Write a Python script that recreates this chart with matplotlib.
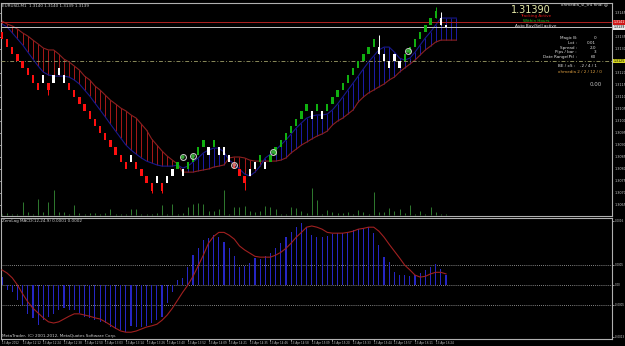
import numpy as np
import matplotlib
matplotlib.use("Agg")
import matplotlib.pyplot as plt
from matplotlib import font_manager

W, H = 625, 346
_names = {f.name for f in font_manager.fontManager.ttflist}
SMALL = ['Liberation Sans Narrow', 'DejaVu Sans'] if 'Liberation Sans Narrow' in _names else ['DejaVu Sans']

# --- EURUSD,M1 range bars (3 pips) ---
opens = [1.31370, 1.31340, 1.31310, 1.31280, 1.31250, 1.31220, 1.31190, 1.31160,
         1.31160, 1.31160, 1.31160, 1.31190, 1.31190,
         1.31160, 1.31130, 1.31100, 1.31070, 1.31040, 1.31010, 1.30980, 1.30950, 1.30920, 1.30890, 1.30860, 1.30830,
         1.30830, 1.30830, 1.30800, 1.30770, 1.30740,
         1.30740, 1.30740, 1.30740, 1.30770,
         1.30800, 1.30800, 1.30800, 1.30830, 1.30860, 1.30890,
         1.30890, 1.30890, 1.30890, 1.30890, 1.30860,
         1.30830, 1.30800, 1.30770,
         1.30770, 1.30800, 1.30830, 1.30830,
         1.30830, 1.30860, 1.30890, 1.30920, 1.30950, 1.30980, 1.31010, 1.31040,
         1.31040, 1.31040, 1.31040,
         1.31040, 1.31070, 1.31100, 1.31130, 1.31160, 1.31190, 1.31220, 1.31250, 1.31280, 1.31310,
         1.31310, 1.31280, 1.31250, 1.31250, 1.31250,
         1.31250, 1.31280, 1.31310, 1.31340, 1.31370, 1.31400, 1.31430,
         1.31430, 1.31400]
closes = [1.31340, 1.31310, 1.31280, 1.31250, 1.31220, 1.31190, 1.31160, 1.31130,
          1.31190, 1.31130, 1.31190, 1.31220, 1.31160,
          1.31130, 1.31100, 1.31070, 1.31040, 1.31010, 1.30980, 1.30950, 1.30920, 1.30890, 1.30860, 1.30830, 1.30800,
          1.30860, 1.30800, 1.30770, 1.30740, 1.30710,
          1.30770, 1.30710, 1.30770, 1.30800,
          1.30830, 1.30770, 1.30830, 1.30860, 1.30890, 1.30920,
          1.30860, 1.30920, 1.30860, 1.30860, 1.30830,
          1.30800, 1.30770, 1.30740,
          1.30800, 1.30830, 1.30860, 1.30800,
          1.30860, 1.30890, 1.30920, 1.30950, 1.30980, 1.31010, 1.31040, 1.31070,
          1.31010, 1.31070, 1.31010,
          1.31070, 1.31100, 1.31130, 1.31160, 1.31190, 1.31220, 1.31250, 1.31280, 1.31310, 1.31340,
          1.31280, 1.31250, 1.31220, 1.31280, 1.31220,
          1.31280, 1.31310, 1.31340, 1.31370, 1.31400, 1.31430, 1.31460,
          1.31400, 1.31390]
bar_kind = list("rrrrrrrr" "wrwww" "rrrrrrrrrrrr" "wrrrr" "wrww" "gwgggg" "wgwww" "rrr"
                "wwgw" "gggggggg" "wgw" "gggggggggg" "wwwww" "ggggggg" "ww")

wick_bar = [9, 29, 31, 47, 73, 84, 85]
wick_low = [1.31108, 1.30700, 1.30700, 1.30712, 1.31280, 1.31430, 1.31400]
wick_high = [1.31160, 1.30740, 1.30740, 1.30770, 1.31358, 1.31475, 1.31454]

# trailing band: stop line and near line
stop = [1.31417, 1.31404, 1.31396, 1.31383, 1.31367, 1.31354, 1.31337, 1.31321, 1.31304, 1.31296,
        1.31296, 1.31279, 1.31258, 1.31246, 1.31229, 1.31212, 1.31187, 1.31171, 1.31146, 1.31129,
        1.31108, 1.31087, 1.31071, 1.31054, 1.31042, 1.31025, 1.31012, 1.30987, 1.30962, 1.30925,
        1.30900, 1.30875, 1.30854, 1.30837, 1.30821,
        1.30787, 1.30787, 1.30787, 1.30792, 1.30796, 1.30800, 1.30808, 1.30812, 1.30817,
        1.30846, 1.30850, 1.30850, 1.30846, 1.30837, 1.30833, 1.30833,
        1.30833, 1.30833, 1.30833, 1.30837, 1.30846, 1.30867, 1.30883, 1.30900, 1.30912,
        1.30925, 1.30937, 1.30946, 1.30958, 1.30983, 1.31000, 1.31012, 1.31029, 1.31046, 1.31079,
        1.31100, 1.31117, 1.31129, 1.31142, 1.31154, 1.31171, 1.31183, 1.31204, 1.31221, 1.31237,
        1.31254, 1.31275, 1.31296, 1.31312, 1.31329, 1.31337, 1.31337, 1.31337, 1.31337]
near = [1.31404, 1.31392, 1.31367, 1.31342, 1.31317, 1.31287, 1.31258, 1.31229, 1.31204, 1.31192,
        1.31187, 1.31187, 1.31187, 1.31183, 1.31171, 1.31154, 1.31129, 1.31104, 1.31075, 1.31046,
        1.31017, 1.30987, 1.30958, 1.30929, 1.30900, 1.30879, 1.30862, 1.30846, 1.30833, 1.30825,
        1.30817, 1.30812, 1.30812, 1.30812, 1.30817,
        1.30804, 1.30812, 1.30829, 1.30846, 1.30867, 1.30879, 1.30887, 1.30887, 1.30871,
        1.30837, 1.30821, 1.30800, 1.30779, 1.30771, 1.30787, 1.30812,
        1.30846, 1.30862, 1.30879, 1.30900, 1.30921, 1.30946, 1.30971, 1.30992, 1.31012,
        1.31021, 1.31025, 1.31025, 1.31029, 1.31046, 1.31071, 1.31100, 1.31129, 1.31158, 1.31187,
        1.31217, 1.31246, 1.31271, 1.31296, 1.31308, 1.31308, 1.31287, 1.31262, 1.31254, 1.31262,
        1.31287, 1.31317, 1.31346, 1.31371, 1.31400, 1.31429, 1.31429, 1.31429, 1.31429]

# signal markers
sig_bar = [35, 37, 45, 52.5, 78.6]
sig_price = [1.30850, 1.30854, 1.30817, 1.30871, 1.31292]
sig_col = ['#3aa83a', '#3aa83a', '#d07070', '#3aa83a', '#3aa83a']

volume = [3, 6, 3, 3, 39, 9, 3, 48, 9, 39,
          75, 9, 9, 3, 30, 6, 3, 6, 6, 3,
          6, 18, 3, 3, 3, 18, 18, 3, 3, 3,
          6, 30, 3, 33, 3, 6, 24, 33, 36, 33,
          12, 12, 18, 75, 3, 24, 24, 27, 12, 9,
          12, 27, 24, 18, 3, 3, 24, 21, 12, 6,
          81, 45, 3, 15, 9, 6, 6, 9, 3, 15,
          9, 3, 69, 9, 9, 21, 12, 18, 6, 30,
          3, 12, 3, 24, 9, 3, 3]

# ZeroLag MACD
hist = [0.00020, -0.00012, -0.00018, -0.00038, -0.00050, -0.00072, -0.00082, -0.00100, -0.00088, -0.00080,
        -0.00072, -0.00062, -0.00058, -0.00062, -0.00062, -0.00070, -0.00080, -0.00082, -0.00088, -0.00092,
        -0.00095, -0.00105, -0.00110, -0.00112, -0.00118, -0.00102, -0.00105, -0.00105, -0.00102, -0.00095,
        -0.00088, -0.00080, -0.00045, -0.00018, 0.00012, 0.00018, 0.00045, 0.00075, 0.00092, 0.00112,
        0.00118, 0.00125, 0.00120, 0.00108, 0.00092, 0.00072, 0.00045, 0.00048, 0.00055, 0.00068,
        0.00065, 0.00072, 0.00080, 0.00092, 0.00105, 0.00120, 0.00132, 0.00145, 0.00155, 0.00145,
        0.00125, 0.00120, 0.00120, 0.00122, 0.00128, 0.00130, 0.00130, 0.00132, 0.00138, 0.00140,
        0.00142, 0.00145, 0.00130, 0.00100, 0.00070, 0.00058, 0.00032, 0.00025, 0.00025, 0.00022,
        0.00025, 0.00030, 0.00038, 0.00045, 0.00052, 0.00040, 0.00025]
signal = [0.00038, 0.00030, 0.00018, 0.00000, -0.00022, -0.00042, -0.00058, -0.00070, -0.00082, -0.00092,
          -0.00095, -0.00092, -0.00085, -0.00078, -0.00072, -0.00072, -0.00075, -0.00078, -0.00082, -0.00085,
          -0.00092, -0.00100, -0.00108, -0.00115, -0.00118, -0.00118, -0.00115, -0.00110, -0.00105, -0.00102,
          -0.00098, -0.00088, -0.00075, -0.00058, -0.00038, -0.00018, 0.00000, 0.00022, 0.00048, 0.00075,
          0.00105, 0.00122, 0.00132, 0.00132, 0.00125, 0.00115, 0.00098, 0.00088, 0.00080, 0.00072,
          0.00070, 0.00070, 0.00070, 0.00075, 0.00082, 0.00092, 0.00105, 0.00120, 0.00132, 0.00145,
          0.00148, 0.00145, 0.00140, 0.00132, 0.00130, 0.00130, 0.00130, 0.00132, 0.00135, 0.00140,
          0.00142, 0.00145, 0.00145, 0.00135, 0.00120, 0.00102, 0.00085, 0.00068, 0.00050, 0.00038,
          0.00025, 0.00020, 0.00022, 0.00028, 0.00032, 0.00032, 0.00028]

time_labels = ["13 Apr 2012", "13 Apr 12:12", "13 Apr 12:24", "13 Apr 12:38", "13 Apr 12:50",
               "13 Apr 13:03", "13 Apr 13:14", "13 Apr 13:26", "13 Apr 13:40", "13 Apr 13:52",
               "13 Apr 14:09", "13 Apr 14:21", "13 Apr 14:35", "13 Apr 14:46", "13 Apr 14:58",
               "13 Apr 15:09", "13 Apr 15:20", "13 Apr 15:33", "13 Apr 15:44", "13 Apr 15:57",
               "13 Apr 16:11", "13 Apr 16:24"]
price_ticks = [1.3145, 1.3135, 1.3130, 1.3120, 1.3115, 1.3110, 1.3105, 1.3100, 1.3095,
               1.3090, 1.3085, 1.3080, 1.3075, 1.3070, 1.3065]
macd_ticks = [0.0016, 0.0005, 0.0, -0.0005, -0.0013]
macd_tick_labels = ["0.0016", "0.0005", "0.00", "-0.0005", "-0.0013"]

ask_line, bid_line, level_line = 1.31412, 1.31390, 1.31250

# ---------------------------------------------------------------
fig = plt.figure(figsize=(W / 100, H / 100), dpi=100, facecolor='black')
ax = fig.add_axes([1 / W, 130 / H, 611 / W, 213 / H])
ax2 = fig.add_axes([1 / W, 7 / H, 611 / W, 121 / H])

for a in (ax, ax2):
    a.set_facecolor('black')
    for s in a.spines.values():
        s.set_color('#b0b0b0')
        s.set_linewidth(0.8)
    a.set_xlim(-0.19, 118.15)
    a.tick_params(axis='y', left=False, labelleft=False, right=True, labelright=False,
                  colors='#c8c8c8', length=1.2, width=0.5)


def right_labels(a, ticks, labels, size=2.4):
    # price scale on the right, drawn as plain texts next to the ticks
    a.set_yticks(ticks, labels=[''] * len(ticks))
    for t, s in zip(ticks, labels):
        a.text(1.004, t, s, transform=a.get_yaxis_transform(), fontsize=size, color='#c8c8c8',
               va='center', ha='left', family=SMALL)


idx = np.arange(len(opens))
bidx = np.arange(len(stop))

# band hatch
hatch_col = ['#a81818' if s > n else '#1c1ca8' for s, n in zip(stop, near)]
ax.vlines(bidx, near, stop, colors=hatch_col, lw=0.7, zorder=1)
ax.plot(bidx, stop, color='#8c2020', lw=0.8, zorder=2)
ax.plot(bidx, near, color='#18188c', lw=0.8, zorder=2)

# volume
axv = ax.twinx()
axv.set_ylim(-3, 636)
axv.vlines(idx, 0, volume, colors='#2f7a2f', lw=0.7)
axv.axis('off')

# levels
ax.axhline(ask_line, color='#b02020', lw=0.7, zorder=3)
ax.axhline(bid_line, color='#c8c8c8', lw=0.7, zorder=3)
ax.axhline(level_line, color='#8a8a5a', lw=0.7, ls=(0, (4, 2, 1, 2)), zorder=3)

# candles
kind_col = {'r': '#ff1010', 'g': '#10b010', 'w': '#ffffff'}
cols = [kind_col[k] for k in bar_kind]
lo = np.minimum(opens, closes)
hi = np.maximum(opens, closes)
ax.vlines(wick_bar, wick_low, wick_high, colors=[cols[i] for i in wick_bar], lw=0.7, zorder=4)
ax.bar(idx, hi - lo, bottom=lo, width=0.45, color=cols, zorder=5)

ax.plot(sig_bar, sig_price, 'o', ms=4.2, mfc='none', mec='#c8c8c8', mew=0.8, zorder=6)
ax.scatter(sig_bar, sig_price, s=3, c=sig_col, zorder=7)

ax.set_ylim(1.306042, 1.314917)
right_labels(ax, price_ticks, ["%.4f" % p for p in price_ticks])
ax.set_xticks([])

# right axis price boxes
for p, fc, tc in [(ask_line, '#d01818', 'white'), (bid_line, '#e8e8e8', 'black'), (level_line, '#d8d820', 'black')]:
    ax.text(1.003, p, "%.4f" % p, transform=ax.get_yaxis_transform(), fontsize=2.3, color=tc,
            va='center', ha='left', family=SMALL,
            bbox=dict(boxstyle='square,pad=0.12', fc=fc, ec='none'))

ax.text(0.002, 0.995, "EURUSD,M1  1.3140 1.3140 1.3139 1.3139", transform=ax.transAxes,
        fontsize=3, color='#d0d0d0', va='top', ha='left', family=SMALL)


# panel info block (figure pixel coordinates)
def ftext(x, y, s, **kw):
    fig.text(x / W, 1 - y / H, s, va='center', family=SMALL, **kw)


ftext(608, 4, "ohmedia_sl_tr4 final \u263a", fontsize=3, color='#e0e0e0', ha='right')
fig.text(531 / W, 1 - 10 / H, "1.31390", fontsize=7, color='#e6eaa8', ha='center', va='center')
ftext(536, 16, "Tracking Active", fontsize=3, color='#e01818', ha='center')
ftext(536, 21, "Within Hours", fontsize=3, color='#20c020', ha='center')
ftext(536, 26, "Auto Buy/Sell active", fontsize=3, color='#e0e0e0', ha='center')
info_names = ["Magic B:", "Lot :", "Spread :", "Pips / bar :", "Date Range(Pt) :"]
info_vals = ["0", "0.01", "2.0", "3", "60"]
for k, (nm, vl) in enumerate(zip(info_names, info_vals)):
    ftext(577, 38 + 4.8 * k, nm, fontsize=3, color='#e0e0e0', ha='right')
    ftext(596, 38 + 4.8 * k, vl, fontsize=3, color='#e0e0e0', ha='right')
ftext(575, 66, "BE / xS :", fontsize=3, color='#e0e0e0', ha='right')
ftext(597, 66, "-2 / 4 / 1", fontsize=3, color='#e0e0e0', ha='right')
ftext(580, 72, "ohmedia 2 / 2 / 12 / 0", fontsize=3, color='#e0a040', ha='center')
ftext(602, 84, "0.00", fontsize=4, color='#c0c0c0', ha='right')

# lower panel: ZeroLag MACD
ax2.bar(idx, hist, width=0.22, color='#2626c4', zorder=2)
ax2.plot(idx, signal, color='#a02020', lw=0.8, zorder=3)
for lv in (0.0005, 0.0, -0.0005):
    ax2.axhline(lv, color='#b0b0b0', lw=0.6, ls=(0, (1, 1.5)), zorder=1)
ax2.set_ylim(-0.00135, 0.00168)
right_labels(ax2, macd_ticks, macd_tick_labels, size=2.0)
ax2.set_xticks(idx[::4][:len(time_labels)])
ax2.set_xticklabels(time_labels, family=SMALL)
ax2.tick_params(axis='x', colors='#c8c8c8', labelsize=2.0, length=1.2, width=0.5, pad=0.5)
for t in ax2.get_xticklabels():
    t.set_ha('left')
ax2.text(0.002, 0.99, "ZeroLag MACD(12,24,9) 0.0001 0.0002", transform=ax2.transAxes,
         fontsize=3, color='#d0d0d0', va='top', ha='left', family=SMALL)
ax2.text(0.002, 0.01, "MetaTrader, (C) 2001-2012, MetaQuotes Software Corp.", transform=ax2.transAxes,
         fontsize=3, color='#d0d0d0', va='bottom', ha='left', family=SMALL)

fig.savefig('out.png', dpi=100, facecolor='black')
